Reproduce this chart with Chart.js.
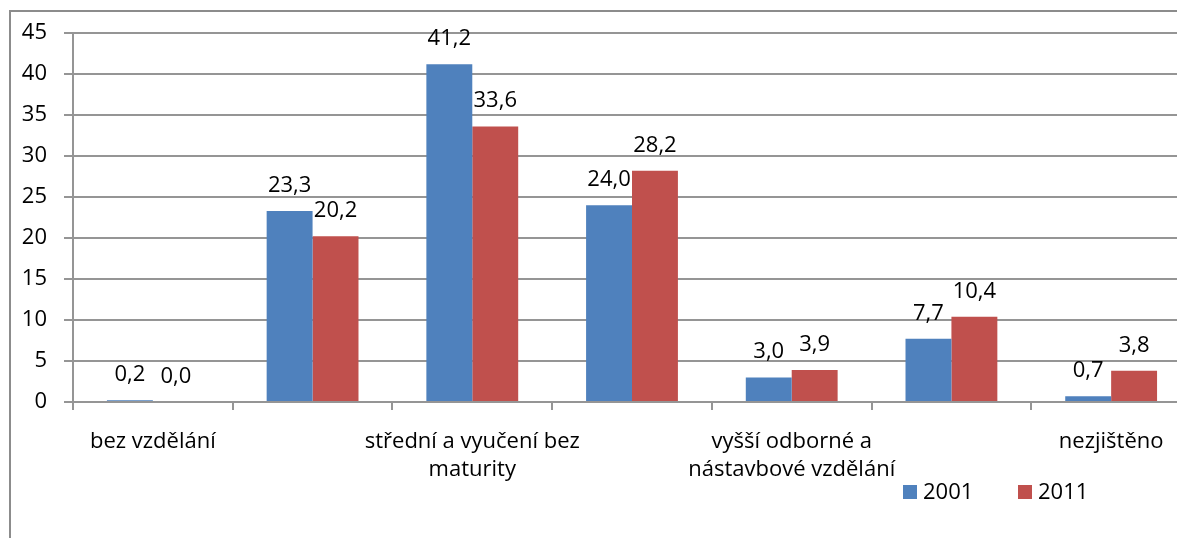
<!DOCTYPE html>
<html>
<head>
<meta charset="utf-8">
<script src="https://cdn.jsdelivr.net/npm/chart.js@4"></script>
<style>
  html, body { margin: 0; padding: 0; background: #fff; overflow: hidden; }
  #frame { position: absolute; left: 9px; top: 10px; width: 1400px; height: 700px;
           border-left: 2px solid #8c8c8c; border-top: 2px solid #8c8c8c; }
  #chart { position: absolute; left: 0; top: 0; }
</style>
</head>
<body>
<div id="frame"></div>
<canvas id="chart" width="1200" height="538"></canvas>
<script>
// categories (every other one is hidden on the axis, like in the original)
const categories = [
    ['bez vzdělání'],
    ['základní vč. neukončeného'],
    ['střední a vyučení bez', 'maturity'],
    ['úplné střední s maturitou'],
    ['vyšší odborné a', 'nástavbové vzdělání'],
    ['vysokoškolské'],
    ['nezjištěno']
];
const years = ['2001', '2011'];
const values2001 = [0.2, 23.3, 41.2, 24.0, 3.0, 7.7, 0.7];
const values2011 = [0.0, 20.2, 33.6, 28.2, 3.9, 10.4, 3.8];
const yTicks = [0, 5, 10, 15, 20, 25, 30, 35, 40, 45];

const FONT = '"Open Sans", sans-serif';
const FSIZE = 22;
const gridColor = '#959595';

// value labels above bars, comma as decimal separator
const valueLabels = {
    id: 'valueLabels',
    afterDatasetsDraw(chart) {
        const ctx = chart.ctx;
        ctx.save();
        ctx.font = FSIZE + 'px ' + FONT;
        ctx.fillStyle = '#000';
        ctx.textAlign = 'center';
        ctx.textBaseline = 'alphabetic';
        chart.data.datasets.forEach((ds, i) => {
            chart.getDatasetMeta(i).data.forEach((bar, j) => {
                const txt = ds.data[j].toFixed(1).replace('.', ',');
                ctx.fillText(txt, bar.x, bar.y - 19);
            });
        });
        ctx.restore();
    }
};

// legend in the lower right corner
const cornerLegend = {
    id: 'cornerLegend',
    afterDraw(chart) {
        const ctx = chart.ctx;
        ctx.save();
        ctx.font = FSIZE + 'px ' + FONT;
        ctx.textBaseline = 'middle';
        ctx.textAlign = 'left';
        let x = 903;
        const y = 492;
        chart.data.datasets.forEach(ds => {
            ctx.fillStyle = ds.backgroundColor;
            ctx.fillRect(x, y - 7, 14, 14);
            ctx.fillStyle = '#000';
            ctx.fillText(ds.label, x + 20, y + 1);
            x += 115;
        });
        ctx.restore();
    }
};

new Chart(document.getElementById('chart'), {
    type: 'bar',
    data: {
        labels: categories,
        datasets: [
            { label: years[0], data: values2001, backgroundColor: '#4F81BD' },
            { label: years[1], data: values2011, backgroundColor: '#C0504D' }
        ]
    },
    options: {
        responsive: false,
        animation: false,
        layout: { padding: { left: 0, top: 33, right: 9, bottom: 0 } },
        datasets: { bar: { categoryPercentage: 0.575, barPercentage: 1.0 } },
        plugins: {
            legend: { display: false },
            tooltip: { enabled: false }
        },
        scales: {
            x: {
                grid: { drawOnChartArea: false, offset: true, tickLength: 8, color: gridColor, lineWidth: 2 },
                border: { display: false },
                ticks: {
                    autoSkip: false,
                    maxRotation: 0,
                    padding: 18,
                    color: '#000',
                    font: { family: FONT, size: FSIZE, lineHeight: 1.27 },
                    callback: (v, i) => (i % 2 === 0 ? categories[i] : '')
                },
                afterFit: s => { s.height = 136; }
            },
            y: {
                min: 0,
                max: 45,
                afterBuildTicks: s => { s.ticks = yTicks.map(v => ({ value: v })); },
                grid: { color: gridColor, lineWidth: 2, tickLength: 9 },
                border: { color: gridColor, width: 2 },
                ticks: {
                    padding: 17,
                    color: '#000',
                    font: { family: FONT, size: FSIZE }
                },
                afterFit: s => { s.width = 73; }
            }
        }
    },
    plugins: [valueLabels, cornerLegend]
});
</script>
</body>
</html>
